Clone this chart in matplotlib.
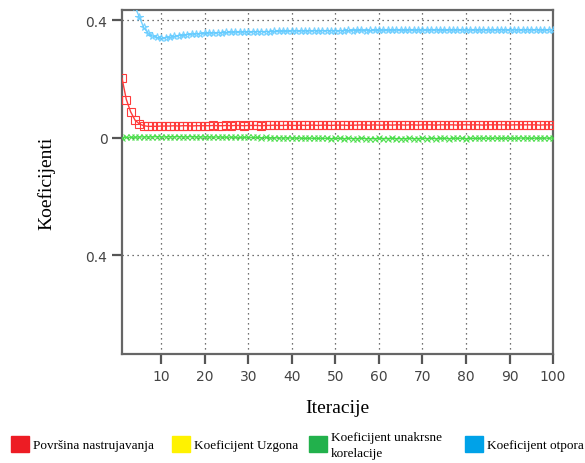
import numpy as np
import matplotlib
matplotlib.use("Agg")
import matplotlib.pyplot as plt
import matplotlib.ticker as mticker
from matplotlib.patches import Rectangle

iteracije = list(range(1, 101))

# povrsina nastrujavanja (crveno)
povrsina = [0.203, 0.130, 0.088, 0.060, 0.047, 0.041, 0.039, 0.039, 0.039, 0.040,
            0.040, 0.040, 0.041, 0.040, 0.041, 0.041, 0.040, 0.041, 0.041, 0.041,
            0.041, 0.042, 0.041, 0.041, 0.042, 0.041, 0.042, 0.042, 0.041, 0.042,
            0.042, 0.042, 0.041, 0.042, 0.042, 0.043, 0.042, 0.042, 0.043, 0.042,
            0.042, 0.043, 0.042, 0.043, 0.043, 0.042, 0.043, 0.043, 0.042, 0.043,
            0.043, 0.043, 0.042, 0.043, 0.043, 0.044, 0.043, 0.043, 0.044, 0.043,
            0.043, 0.044, 0.043, 0.044, 0.044, 0.043, 0.044, 0.044, 0.043, 0.044,
            0.044, 0.044, 0.043, 0.044, 0.044, 0.044, 0.044, 0.043, 0.044, 0.044,
            0.044, 0.044, 0.044, 0.043, 0.044, 0.044, 0.044, 0.044, 0.044, 0.043,
            0.044, 0.044, 0.044, 0.044, 0.044, 0.044, 0.043, 0.044, 0.044, 0.044]

# koeficijent unakrsne korelacije (zeleno)
korelacija = [0.000, 0.001, 0.002, 0.002, 0.003, 0.003, 0.003, 0.003, 0.004, 0.003,
              0.003, 0.004, 0.003, 0.004, 0.003, 0.003, 0.004, 0.003, 0.003, 0.003,
              0.003, 0.002, 0.003, 0.002, 0.002, 0.002, 0.002, 0.001, 0.002, 0.001,
              0.001, 0.001, 0.000, 0.001, 0.000, 0.000, 0.000, -0.001, 0.000, -0.001,
              -0.001, -0.001, -0.002, -0.001, -0.002, -0.002, -0.002, -0.002, -0.003, -0.002,
              -0.002, -0.003, -0.002, -0.003, -0.003, -0.002, -0.003, -0.003, -0.003, -0.002,
              -0.003, -0.003, -0.002, -0.003, -0.003, -0.003, -0.002, -0.003, -0.003, -0.002,
              -0.003, -0.002, -0.003, -0.002, -0.002, -0.003, -0.002, -0.002, -0.002, -0.003,
              -0.002, -0.002, -0.002, -0.001, -0.002, -0.002, -0.001, -0.002, -0.001, -0.001,
              -0.002, -0.001, -0.001, -0.001, -0.002, -0.001, -0.001, -0.001, -0.001, -0.001]

# koeficijent otpora (plavo)
otpora = [0.620, 0.540, 0.480, 0.445, 0.410, 0.375, 0.356, 0.346, 0.341, 0.338,
          0.340, 0.342, 0.345, 0.347, 0.349, 0.351, 0.352, 0.353, 0.354, 0.355,
          0.356, 0.356, 0.357, 0.357, 0.358, 0.358, 0.359, 0.359, 0.360, 0.360,
          0.360, 0.361, 0.361, 0.361, 0.361, 0.362, 0.362, 0.362, 0.362, 0.363,
          0.363, 0.363, 0.363, 0.363, 0.364, 0.363, 0.364, 0.364, 0.364, 0.364,
          0.364, 0.364, 0.365, 0.364, 0.365, 0.365, 0.364, 0.365, 0.365, 0.365,
          0.365, 0.365, 0.365, 0.366, 0.365, 0.365, 0.366, 0.365, 0.366, 0.366,
          0.365, 0.366, 0.366, 0.366, 0.365, 0.366, 0.366, 0.366, 0.366, 0.366,
          0.366, 0.366, 0.366, 0.367, 0.366, 0.366, 0.366, 0.367, 0.366, 0.366,
          0.367, 0.366, 0.366, 0.367, 0.366, 0.367, 0.366, 0.366, 0.367, 0.366]

x_ticks = [10, 20, 30, 40, 50, 60, 70, 80, 90, 100]
y_ticks = [-0.4, 0.0, 0.4]
y_tick_labels = ["0.4", "0", "0.4"]

legend_labels = ["Površina nastrujavanja", "Koeficijent Uzgona",
                 "Koeficijent unakrsne\nkorelacije", "Koeficijent otpora"]
legend_colors = ["#ed1c24", "#fff200", "#22b14c", "#00a2e8"]

serif = {"family": "Liberation Serif"}
axis_gray = "#555555"
W, H = 585, 464

fig = plt.figure(figsize=(5.85, 4.64), dpi=100)
ax = fig.add_axes([0.2085, 0.235, 0.737, 0.741])

ax.plot(iteracije, otpora, color="#66ccff", marker="*", markersize=5.5, linewidth=1.0,
        markerfacecolor="none", markeredgewidth=0.8, alpha=0.9, zorder=3)
ax.plot(iteracije, povrsina, color="#ff3b3b", marker="s", markersize=5.5, linewidth=1.0,
        markerfacecolor="none", markeredgewidth=0.8, zorder=3)
ax.plot(iteracije, korelacija, color="#44dd44", marker="x", markersize=5, linewidth=1.0,
        markeredgewidth=0.8, alpha=0.9, zorder=3)

ax.set_xlim(1, 100)
ax.set_ylim(-0.735, 0.434)
ax.set_xticks(x_ticks)
ax.set_yticks(y_ticks)
ax.set_yticklabels(y_tick_labels)

ax.grid(True, linestyle=(0, (1, 3)), color="#444444", linewidth=0.9)
for s in ax.spines.values():
    s.set_color("#666666")
    s.set_linewidth(1.6)
ax.tick_params(axis="both", direction="out", length=7, width=1.6, color=axis_gray,
               labelcolor="#444444", labelsize=10)

ax.set_xlabel("Iteracije", fontdict=serif, fontsize=14, labelpad=12)
ax.set_ylabel("Koeficijenti", fontdict=serif, fontsize=14, labelpad=22)

# legenda ispod grafa, rucno postavljena (pikseli)
patch_x = [11, 172, 309, 465]
for px, lab, col in zip(patch_x, legend_labels, legend_colors):
    fig.add_artist(Rectangle((px / W, 1 - 453 / H), 18 / W, 16 / H,
                             transform=fig.transFigure, facecolor=col, edgecolor=col))
    fig.text((px + 22) / W, 1 - 446 / H, lab, fontdict=serif, fontsize=9.5,
             ha="left", va="center", linespacing=1.45)

fig.savefig("out.png", dpi=100)
